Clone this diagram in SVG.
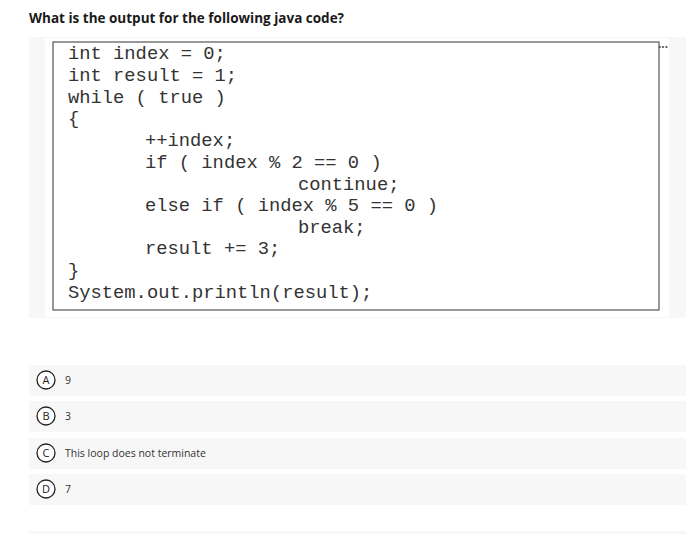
<svg xmlns="http://www.w3.org/2000/svg" width="700" height="536" viewBox="0 0 700 536">
<style>
.q{font-family:"Open Sans","Liberation Sans",sans-serif;font-weight:bold;font-size:13.5px;fill:#1a1a1a}
.c{font-family:"Liberation Mono",monospace;font-size:18.8px;fill:#333}
.band{fill:#f7f7f7}
.opt{font-family:"Open Sans","Liberation Sans",sans-serif;font-size:10.5px;fill:#333}
.circ{fill:#fff;stroke:#222;stroke-width:1.3}
.l{font-family:"Open Sans","Liberation Sans",sans-serif;font-size:11px;fill:#222;text-anchor:middle}
</style>
<rect width="700" height="536" fill="#fff"/>
<text class="q" x="29" y="23">What is the output for the following java code?</text>
<rect x="29" y="37" width="657" height="281" class="band"/>
<rect x="45" y="38" width="624" height="279" fill="#fff"/>
<rect x="53" y="42" width="606" height="268" fill="#fff" stroke="#555" stroke-width="1.2"/>
<text x="658" y="48" font-family="Liberation Sans,sans-serif" font-size="12" font-weight="bold" fill="#555">...</text>
<text class="c" xml:space="preserve"><tspan x="68" y="59">int index = 0;</tspan><tspan x="68" y="81">int result = 1;</tspan><tspan x="68" y="103">while ( true )</tspan><tspan x="68" y="124">{</tspan><tspan x="145" y="146">++index;</tspan><tspan x="145" y="168">if ( index % 2 == 0 )</tspan><tspan x="298" y="190">continue;</tspan><tspan x="145" y="211">else if ( index % 5 == 0 )</tspan><tspan x="298" y="233">break;</tspan><tspan x="145" y="254">result += 3;</tspan><tspan x="68" y="276">}</tspan><tspan x="68" y="298">System.out.println(result);</tspan></text>
<g id="optA"><rect x="29" y="365" width="657" height="31" class="band"/><circle class="circ" cx="46" cy="380" r="9"/><text class="l" x="46" y="384">A</text><text class="opt" x="65" y="384">9</text></g>
<g id="optB"><rect x="29" y="401" width="657" height="31" class="band"/><circle class="circ" cx="46" cy="416" r="9"/><text class="l" x="46" y="420">B</text><text class="opt" x="65" y="420">3</text></g>
<g id="optC"><rect x="29" y="438" width="657" height="31" class="band"/><circle class="circ" cx="46" cy="453" r="9"/><text class="l" x="46" y="457">C</text><text class="opt" x="65" y="457">This loop does not terminate</text></g>
<g id="optD"><rect x="29" y="474" width="657" height="31" class="band"/><circle class="circ" cx="46" cy="489" r="9"/><text class="l" x="46" y="493">D</text><text class="opt" x="65" y="493">7</text></g>
<rect x="29" y="531" width="657" height="3" class="band"/>
</svg>
